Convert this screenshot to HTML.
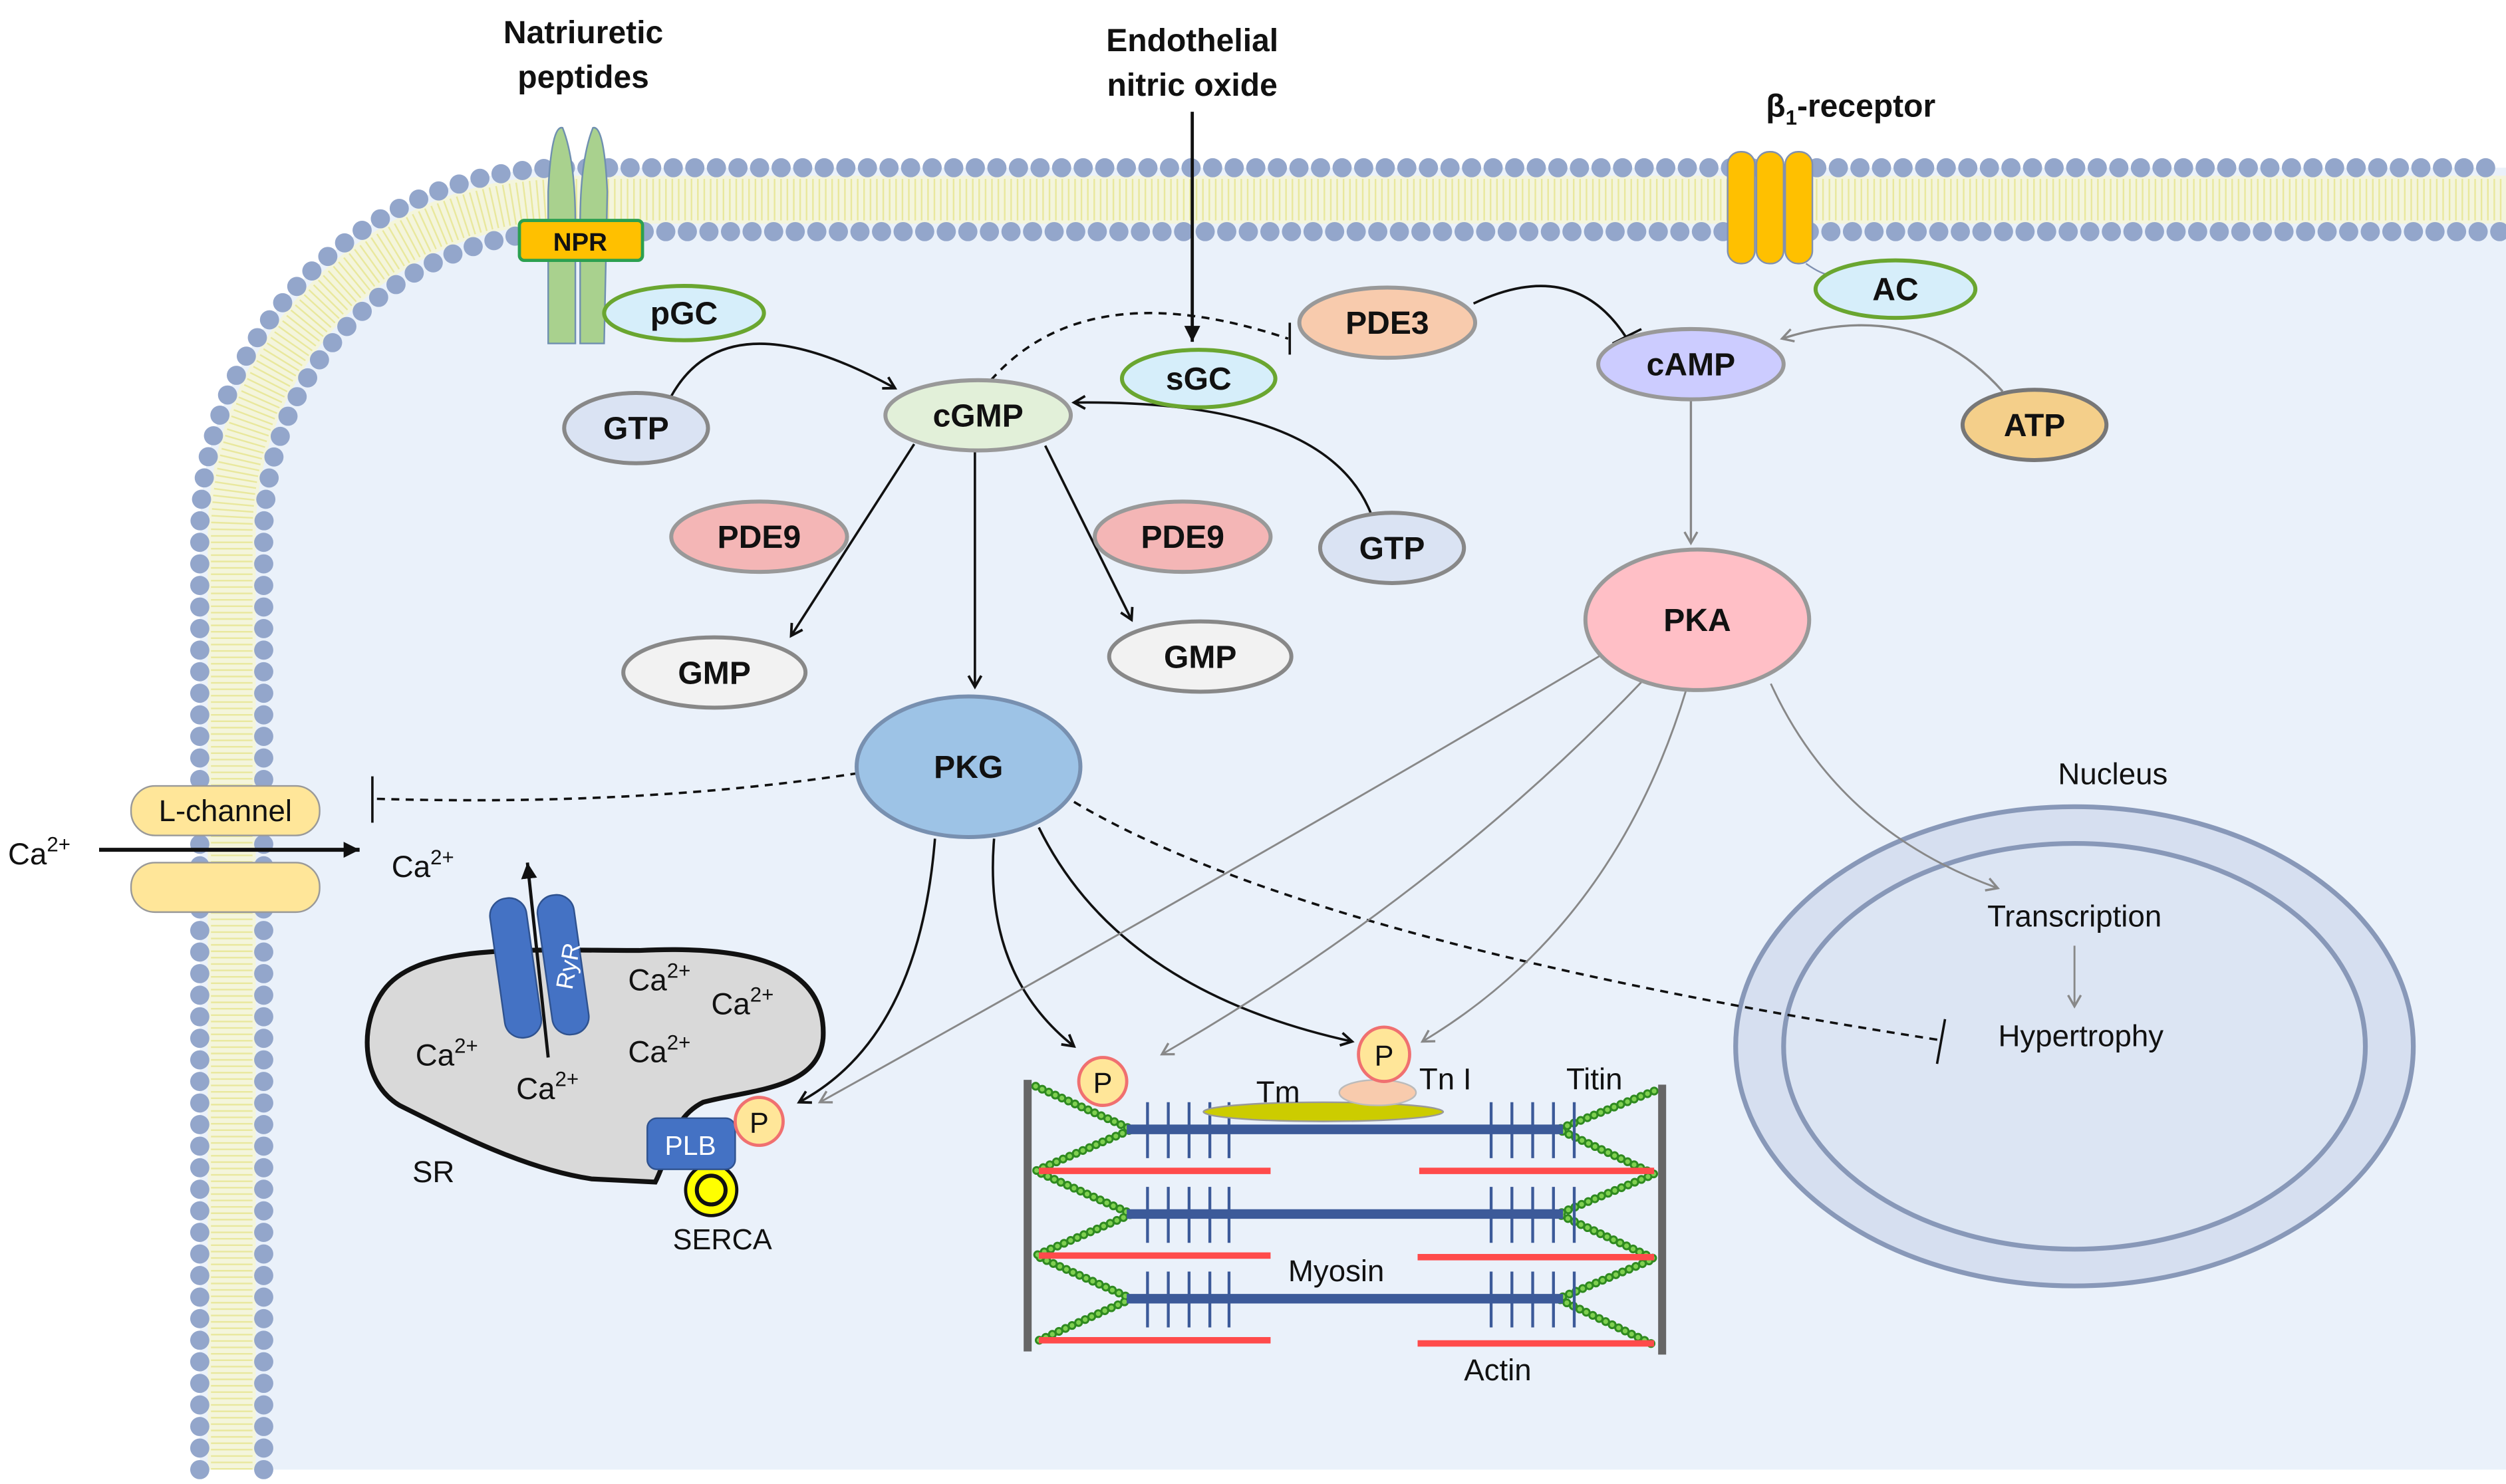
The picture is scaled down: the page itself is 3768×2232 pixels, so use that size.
<!DOCTYPE html>
<html><head><meta charset="utf-8"><style>
html,body{margin:0;padding:0;background:#fff;}
svg{display:block;}
text{font-family:"Liberation Sans",Arial,sans-serif;}
.b{font-weight:bold;font-size:20px;fill:#111;text-anchor:middle;}
.n{font-size:19px;fill:#111;}
</style></head><body>
<svg width="3768" height="2232" viewBox="0 0 1568 929" preserveAspectRatio="none" xmlns="http://www.w3.org/2000/svg">
<defs>
<marker id="ab" markerWidth="10" markerHeight="10" refX="8" refY="5" orient="auto" markerUnits="userSpaceOnUse"><path d="M1,1 L8,5 L1,9" fill="none" stroke="#111" stroke-width="1.6"/></marker>
<marker id="ag" markerWidth="10" markerHeight="10" refX="8" refY="5" orient="auto" markerUnits="userSpaceOnUse"><path d="M1,1 L8,5 L1,9" fill="none" stroke="#888" stroke-width="1.4"/></marker>
<marker id="af" markerWidth="12" markerHeight="12" refX="10" refY="6" orient="auto" markerUnits="userSpaceOnUse"><path d="M0,1 L10,6 L0,11 Z" fill="#111"/></marker>
</defs>
<rect width="1568" height="929" fill="#fff"/>
<path d="M125,920 L125,335 A230,230 0 0 1 355,105 L1568,105 L1568,920 Z" fill="#eaf1fa"/>
<path d="M145,920 L145,335 A210,210 0 0 1 355,125 L1568,125" fill="none" stroke="#f4f5dc" stroke-width="30"/>
<path d="M145,920 L145,335 A210,210 0 0 1 355,125 L1568,125" fill="none" stroke="#e0dc6a" stroke-width="26" stroke-dasharray="1 3" opacity="0.55"/>
<path d="M125,920 L125,335 A230,230 0 0 1 355,105 L1568,105" fill="none" stroke="#93a6cb" stroke-width="12" stroke-linecap="round" stroke-dasharray="0 13.5"/>
<path d="M165,920 L165,335 A190,190 0 0 1 355,145 L1568,145" fill="none" stroke="#93a6cb" stroke-width="12" stroke-linecap="round" stroke-dasharray="0 13.5"/>
<text class="b" x="365" y="27">Natriuretic</text>
<text class="b" x="365" y="55">peptides</text>
<path d="M343,215 L343,120 Q345,78 352,80 Q360,100 360,140 L360,215 Z" fill="#a9d18e" stroke="#6f8fb0" stroke-width="1"/>
<path d="M363,215 L363,140 Q363,100 371,80 Q378,78 380,120 L378,215 Z" fill="#a9d18e" stroke="#6f8fb0" stroke-width="1"/>
<rect x="325" y="138" width="77" height="25" rx="3" fill="#ffc000" stroke="#2ca050" stroke-width="2"/>
<text class="b" x="363" y="157" style="font-size:16px">NPR</text>
<text class="b" x="1158" y="73">β<tspan font-size="13" dy="5">1</tspan><tspan dy="-5">-receptor</tspan></text>
<rect x="1081" y="95" width="17" height="70" rx="8" fill="#ffc000" stroke="#8090b0"/>
<rect x="1099" y="95" width="17" height="70" rx="8" fill="#ffc000" stroke="#8090b0"/>
<rect x="1117" y="95" width="17" height="70" rx="8" fill="#ffc000" stroke="#8090b0"/>
<path d="M1130,165 Q1140,172 1145,172" fill="none" stroke="#8090b0"/>
<text class="b" x="746" y="32">Endothelial</text>
<text class="b" x="746" y="60">nitric oxide</text>
<line x1="746" y1="70" x2="746" y2="214" stroke="#111" stroke-width="2" marker-end="url(#af)"/>
<!-- nucleus (below connectors) -->
<ellipse cx="1298" cy="655" rx="212" ry="150" fill="#d6dff0" stroke="#8898b8" stroke-width="3"/>
<ellipse cx="1298" cy="655" rx="182" ry="127" fill="#dce5f3" stroke="#8898b8" stroke-width="3"/>
<text class="n" x="1322" y="491" text-anchor="middle">Nucleus</text>
<text class="n" x="1298" y="580" text-anchor="middle">Transcription</text>
<text class="n" x="1302" y="655" text-anchor="middle">Hypertrophy</text>
<line x1="1298" y1="592" x2="1298" y2="630" stroke="#888" stroke-width="1.2" marker-end="url(#ag)"/>
<!-- connectors -->
<path d="M420,248 Q455,185 560,243" fill="none" stroke="#111" stroke-width="1.5" marker-end="url(#ab)"/>
<path d="M858,322 Q830,250 672,252" fill="none" stroke="#111" stroke-width="1.5" marker-end="url(#ab)"/>
<path d="M620,238 Q680,170 806,212" fill="none" stroke="#111" stroke-width="1.5" stroke-dasharray="5 4"/>
<line x1="807" y1="202" x2="807" y2="222" stroke="#111" stroke-width="1.5"/>
<path d="M922,190 Q985,160 1018,212" fill="none" stroke="#111" stroke-width="1.5"/>
<line x1="1009" y1="215" x2="1027" y2="206" stroke="#111" stroke-width="1.5"/>
<path d="M1253,245 Q1200,185 1115,212" fill="none" stroke="#888" stroke-width="1.4" marker-end="url(#ag)"/>
<line x1="1058" y1="251" x2="1058" y2="340" stroke="#888" stroke-width="1.4" marker-end="url(#ag)"/>
<line x1="572" y1="278" x2="495" y2="398" stroke="#111" stroke-width="1.5" marker-end="url(#ab)"/>
<line x1="654" y1="279" x2="708" y2="388" stroke="#111" stroke-width="1.5" marker-end="url(#ab)"/>
<line x1="610" y1="283" x2="610" y2="430" stroke="#111" stroke-width="1.5" marker-end="url(#ab)"/>
<path d="M537,484 Q400,505 233,500" fill="none" stroke="#111" stroke-width="1.5" stroke-dasharray="5 4"/>
<line x1="233" y1="486" x2="233" y2="515" stroke="#111" stroke-width="1.5"/>
<path d="M672,502 Q820,590 1213,651" fill="none" stroke="#111" stroke-width="1.5" stroke-dasharray="5 4"/>
<line x1="1217" y1="638" x2="1212" y2="666" stroke="#111" stroke-width="1.5"/>
<path d="M585,525 Q575,650 500,690" fill="none" stroke="#111" stroke-width="1.5" marker-end="url(#ab)"/>
<path d="M622,525 Q615,610 672,655" fill="none" stroke="#111" stroke-width="1.5" marker-end="url(#ab)"/>
<path d="M650,518 Q700,620 846,652" fill="none" stroke="#111" stroke-width="1.5" marker-end="url(#ab)"/>
<path d="M1002,410 Q800,530 513,690" fill="none" stroke="#888" stroke-width="1.2" marker-end="url(#ag)"/>
<path d="M1028,426 Q900,560 727,660" fill="none" stroke="#888" stroke-width="1.2" marker-end="url(#ag)"/>
<path d="M1055,432 Q1010,580 890,652" fill="none" stroke="#888" stroke-width="1.2" marker-end="url(#ag)"/>
<path d="M1108,428 Q1150,520 1250,556" fill="none" stroke="#888" stroke-width="1.2" marker-end="url(#ag)"/>
<g stroke-width="2.5">
<ellipse cx="428" cy="196" rx="50" ry="17" fill="#d6eefa" stroke="#6aa630"/>
<ellipse cx="398" cy="268" rx="45" ry="22" fill="#dae3f3" stroke="#888"/>
<ellipse cx="612" cy="260" rx="58" ry="22" fill="#e2f0d9" stroke="#999"/>
<ellipse cx="750" cy="237" rx="48" ry="18" fill="#d6eefa" stroke="#6aa630"/>
<ellipse cx="868" cy="202" rx="55" ry="22" fill="#f8cbad" stroke="#999"/>
<ellipse cx="1058" cy="228" rx="58" ry="22" fill="#ccccff" stroke="#999"/>
<ellipse cx="1186" cy="181" rx="50" ry="18" fill="#d6eefa" stroke="#6aa630"/>
<ellipse cx="1273" cy="266" rx="45" ry="22" fill="#f4cf8a" stroke="#777"/>
<ellipse cx="475" cy="336" rx="55" ry="22" fill="#f4b6b6" stroke="#999"/>
<ellipse cx="740" cy="336" rx="55" ry="22" fill="#f4b6b6" stroke="#999"/>
<ellipse cx="871" cy="343" rx="45" ry="22" fill="#dae3f3" stroke="#888"/>
<ellipse cx="447" cy="421" rx="57" ry="22" fill="#f2f2f2" stroke="#888"/>
<ellipse cx="751" cy="411" rx="57" ry="22" fill="#f2f2f2" stroke="#888"/>
<ellipse cx="1062" cy="388" rx="70" ry="44" fill="#ffbfc6" stroke="#999"/>
<ellipse cx="606" cy="480" rx="70" ry="44" fill="#9dc3e6" stroke="#7890b0"/>
</g>
<text class="b" x="428" y="203">pGC</text>
<text class="b" x="398" y="275">GTP</text>
<text class="b" x="612" y="267">cGMP</text>
<text class="b" x="750" y="244">sGC</text>
<text class="b" x="868" y="209">PDE3</text>
<text class="b" x="1058" y="235">cAMP</text>
<text class="b" x="1186" y="188">AC</text>
<text class="b" x="1273" y="273">ATP</text>
<text class="b" x="475" y="343">PDE9</text>
<text class="b" x="740" y="343">PDE9</text>
<text class="b" x="871" y="350">GTP</text>
<text class="b" x="447" y="428">GMP</text>
<text class="b" x="751" y="418">GMP</text>
<text class="b" x="1062" y="395">PKA</text>
<text class="b" x="606" y="487">PKG</text>
<rect x="82" y="492" width="118" height="31" rx="15" fill="#ffe699" stroke="#999"/>
<rect x="82" y="540" width="118" height="31" rx="15" fill="#ffe699" stroke="#999"/>
<text class="n" x="141" y="514" text-anchor="middle">L-channel</text>
<text class="n" x="5" y="541">Ca<tspan font-size="13" dy="-8">2+</tspan></text>
<line x1="62" y1="532" x2="225" y2="532" stroke="#111" stroke-width="2.5" marker-end="url(#af)"/>
<text class="n" x="245" y="549">Ca<tspan font-size="13" dy="-8">2+</tspan></text>
<path d="M240,620 C262,590 330,595 400,595 C460,592 518,600 515,650 C512,682 470,682 440,690 C420,700 420,720 410,740 L370,738 C330,732 290,712 250,692 C225,677 225,640 240,620 Z" fill="#d9d9d9" stroke="#111" stroke-width="3"/>
<g transform="rotate(-8 322 605)"><rect x="311" y="562" width="23" height="88" rx="11" fill="#4472c4" stroke="#2f528f"/></g>
<g transform="rotate(-8 352 605)"><rect x="341" y="560" width="23" height="88" rx="11" fill="#4472c4" stroke="#2f528f"/></g>
<text x="0" y="0" transform="translate(358,620) rotate(-80)" font-size="15" fill="#fff" style="font-family:'Liberation Sans',sans-serif">RyR</text>
<line x1="343" y1="662" x2="330" y2="540" stroke="#111" stroke-width="2" marker-end="url(#af)"/>
<text class="n" x="393" y="620">Ca<tspan font-size="13" dy="-8">2+</tspan></text>
<text class="n" x="445" y="635">Ca<tspan font-size="13" dy="-8">2+</tspan></text>
<text class="n" x="260" y="667">Ca<tspan font-size="13" dy="-8">2+</tspan></text>
<text class="n" x="393" y="665">Ca<tspan font-size="13" dy="-8">2+</tspan></text>
<text class="n" x="323" y="688">Ca<tspan font-size="13" dy="-8">2+</tspan></text>
<text class="n" x="258" y="740">SR</text>
<circle cx="445" cy="745" r="16" fill="#ffff00" stroke="#111" stroke-width="2"/>
<circle cx="445" cy="745" r="9" fill="none" stroke="#111" stroke-width="2.5"/>
<rect x="405" y="700" width="55" height="32" rx="6" fill="#4472c4" stroke="#2f528f"/>
<text x="432" y="723" font-size="17" fill="#fff" text-anchor="middle">PLB</text>
<circle cx="475" cy="702" r="15" fill="#ffe699" stroke="#f07070" stroke-width="2"/>
<text x="475" y="709" font-size="18" text-anchor="middle" fill="#111">P</text>
<text class="n" x="452" y="782" text-anchor="middle" style="font-size:18px">SERCA</text>
<g fill="none">
<path d="M648,680 L708,707 L648,733 L708,760 L648,786 L708,813 L648,840" stroke="#2f8a20" stroke-width="5.5" stroke-linecap="round" stroke-dasharray="0 4.5"/>
<path d="M648,680 L708,707 L648,733 L708,760 L648,786 L708,813 L648,840" stroke="#7fd050" stroke-width="3" stroke-linecap="round" stroke-dasharray="0 4.5"/>
<path d="M1035,683 L975,707 L1035,735 L975,760 L1035,788 L975,813 L1035,842" stroke="#2f8a20" stroke-width="5.5" stroke-linecap="round" stroke-dasharray="0 4.5"/>
<path d="M1035,683 L975,707 L1035,735 L975,760 L1035,788 L975,813 L1035,842" stroke="#7fd050" stroke-width="3" stroke-linecap="round" stroke-dasharray="0 4.5"/>
<g stroke="#ff4b4b" stroke-width="4">
<line x1="650" y1="733" x2="795" y2="733"/><line x1="888" y1="733" x2="1035" y2="733"/>
<line x1="650" y1="786" x2="795" y2="786"/><line x1="887" y1="787" x2="1035" y2="787"/>
<line x1="650" y1="839" x2="795" y2="839"/><line x1="887" y1="841" x2="1035" y2="841"/>
</g>
<g stroke="#3c5a99" stroke-width="6">
<line x1="705" y1="707" x2="978" y2="707"/><line x1="705" y1="760" x2="978" y2="760"/><line x1="705" y1="813" x2="978" y2="813"/>
</g>
<g stroke="#3c5a99" stroke-width="1.8">
<path d="M718,690v35M731,690v35M744,690v35M757,690v35M769,690v35M933,690v35M946,690v35M959,690v35M972,690v35M985,690v35"/>
<path d="M718,743v35M731,743v35M744,743v35M757,743v35M769,743v35M933,743v35M946,743v35M959,743v35M972,743v35M985,743v35"/>
<path d="M718,796v35M731,796v35M744,796v35M757,796v35M769,796v35M933,796v35M946,796v35M959,796v35M972,796v35M985,796v35"/>
</g>
<line x1="643" y1="676" x2="643" y2="846" stroke="#666" stroke-width="5"/>
<line x1="1040" y1="679" x2="1040" y2="848" stroke="#666" stroke-width="5"/>
</g>
<ellipse cx="828" cy="696" rx="75" ry="6" fill="#cccc00" stroke="#999"/>
<ellipse cx="862" cy="684" rx="24" ry="8" fill="#f8cbad" stroke="#bbb"/>
<circle cx="690" cy="677" r="15" fill="#ffe699" stroke="#f07070" stroke-width="2"/>
<text x="690" y="684" font-size="18" text-anchor="middle" fill="#111">P</text>
<ellipse cx="866" cy="660" rx="16" ry="17" fill="#ffe699" stroke="#f07070" stroke-width="2"/>
<text x="866" y="667" font-size="18" text-anchor="middle" fill="#111">P</text>
<text class="n" x="786" y="690">Tm</text>
<text class="n" x="888" y="682">Tn I</text>
<text class="n" x="980" y="682">Titin</text>
<text class="n" x="806" y="802">Myosin</text>
<text class="n" x="916" y="864">Actin</text>
</svg>
</body></html>
